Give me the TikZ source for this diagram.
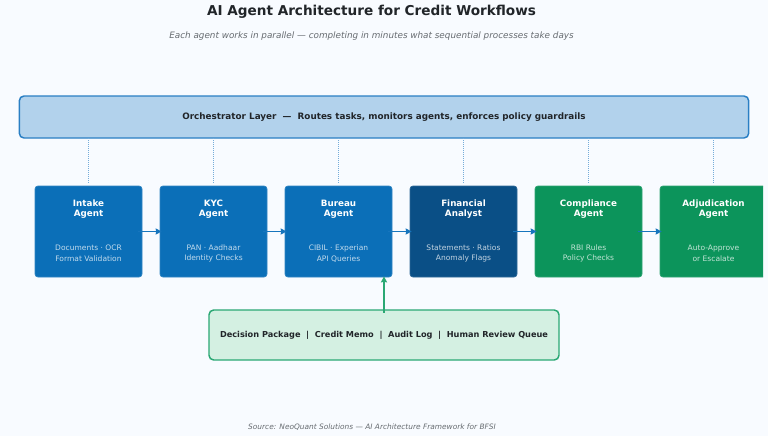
\documentclass[tikz,border=0pt]{standalone}
\usepackage{fontspec}
\setmainfont{DejaVu Sans}
\usetikzlibrary{arrows.meta}
\definecolor{pagebg}{HTML}{F8FBFF}
\definecolor{ink}{HTML}{212529}
\definecolor{grayink}{HTML}{666B70}
\definecolor{blueA}{HTML}{0B6FB8}
\definecolor{blueB}{HTML}{0A4F86}
\definecolor{greenA}{HTML}{0C945B}
\definecolor{orchfill}{HTML}{B2D2EC}
\definecolor{orchline}{HTML}{2A7FC4}
\definecolor{pkgfill}{HTML}{D4F0E2}
\definecolor{pkgline}{HTML}{2BA874}
\tikzset{px/.style = {x=0.75pt, y=-0.75pt},
    agent/.style = {rounded corners=2.2pt, minimum width=80.25pt, minimum height=68.25pt, inner sep=0pt, draw=#1!85!white, fill=#1, line width=0.5pt},
    orch/.style = {rounded corners=3.5pt, minimum width=547pt, minimum height=31.5pt, inner sep=0pt, draw=orchline, fill=orchfill, line width=1.1pt},
    pkg/.style = {rounded corners=3.5pt, minimum width=262.5pt, minimum height=37.5pt, inner sep=0pt, draw=pkgline, fill=pkgfill, line width=1.1pt},
    head/.style = {font=\bfseries\fontsize{6.57}{7.6}\selectfont, text=white, align=center},
    sub/.style = {font=\fontsize{5.65}{7.9}\selectfont, text=white!75!#1, align=center},
    mid/.style = {font=\bfseries\fontsize{6.14}{8}\selectfont, text=ink},
    guard/.style = {draw=orchline!65!white, line width=0.8pt, dash pattern=on 0.75pt off 0.75pt, shorten >=2.5pt},
    flow/.style = {draw=orchline!40!blueA, line width=1.4pt, -{Stealth[length=4.5pt, width=4.5pt, inset=0.4pt]}, shorten <=-3pt, shorten >=-1.5pt},
    lift/.style = {draw=pkgline, line width=1.5pt, -{Stealth[length=4.5pt, width=4.5pt, inset=0.4pt]}, shorten <=-2.5pt, shorten >=-0.5pt}}

\begin{document}
\begin{tikzpicture}[px]
    \fill[pagebg] (0,0) rectangle (768,436);
    \useasboundingbox (0,0) rectangle (768,436);

    \node[font=\bfseries\fontsize{10.2}{12}\selectfont, text=ink] (title) at (371.5,12) {AI Agent Architecture for Credit Workflows};
    \node[font=\itshape\fontsize{6.62}{8}\selectfont, text=grayink] (subtitle) at (371.5,36) {Each agent works in parallel — completing in minutes what sequential processes take days};

    \node[orch] (orch) at (384,117) {};
    \node[mid, font=\bfseries\fontsize{6.62}{8}\selectfont] (orchtext) at (384,117) {Orchestrator Layer\ \ —\ \ Routes tasks, monitors agents, enforces policy guardrails};

    % agents, left to right; the page cuts the last one off
    \begin{scope}
    \clip (0,0) rectangle (763,436);
    \foreach \n/\x/\c/\hd/\sb in {intake/88.5/blueA/Intake\\Agent/Documents · OCR\\Format Validation,
        kyc/213.5/blueA/KYC\\Agent/PAN · Aadhaar\\Identity Checks,
        bureau/338.5/blueA/Bureau\\Agent/CIBIL · Experian\\API Queries,
        fin/463.5/blueB/Financial\\Analyst/Statements · Ratios\\Anomaly Flags,
        comp/588.5/greenA/Compliance\\Agent/RBI Rules\\Policy Checks,
        adj/713.5/greenA/Adjudication\\Agent/Auto-Approve\\or Escalate} {
        \node[agent=\c] (\n) at (\x,231.5) {};
        \node[head] (\n head) at (\x,209.5) {\hd};
        \node[sub=\c] (\n sub) at (\x,253.5) {\sb};
        \coordinate (\n top) at (\x,138);
        \draw[guard] (\n top) -- (\n.north);
    }
    \end{scope}

    \draw[flow] (intake) -- (kyc);
    \draw[flow] (kyc) -- (bureau);
    \draw[flow] (bureau) -- (fin);
    \draw[flow] (fin) -- (comp);
    \draw[flow] (comp) -- (adj);

    \node[pkg] (pkg) at (384,335) {};
    \node[mid] (pkgtext) at (384,335) {Decision Package\ \ |\ \ Credit Memo\ \ |\ \ Audit Log\ \ |\ \ Human Review Queue};
    \coordinate (liftend) at (384,277);
    \draw[lift] (pkg.north) -- (liftend);

    \node[font=\itshape\fontsize{5.56}{7}\selectfont, text=grayink] (source) at (372,427) {Source: NeoQuant Solutions — AI Architecture Framework for BFSI};
\end{tikzpicture}
\end{document}
